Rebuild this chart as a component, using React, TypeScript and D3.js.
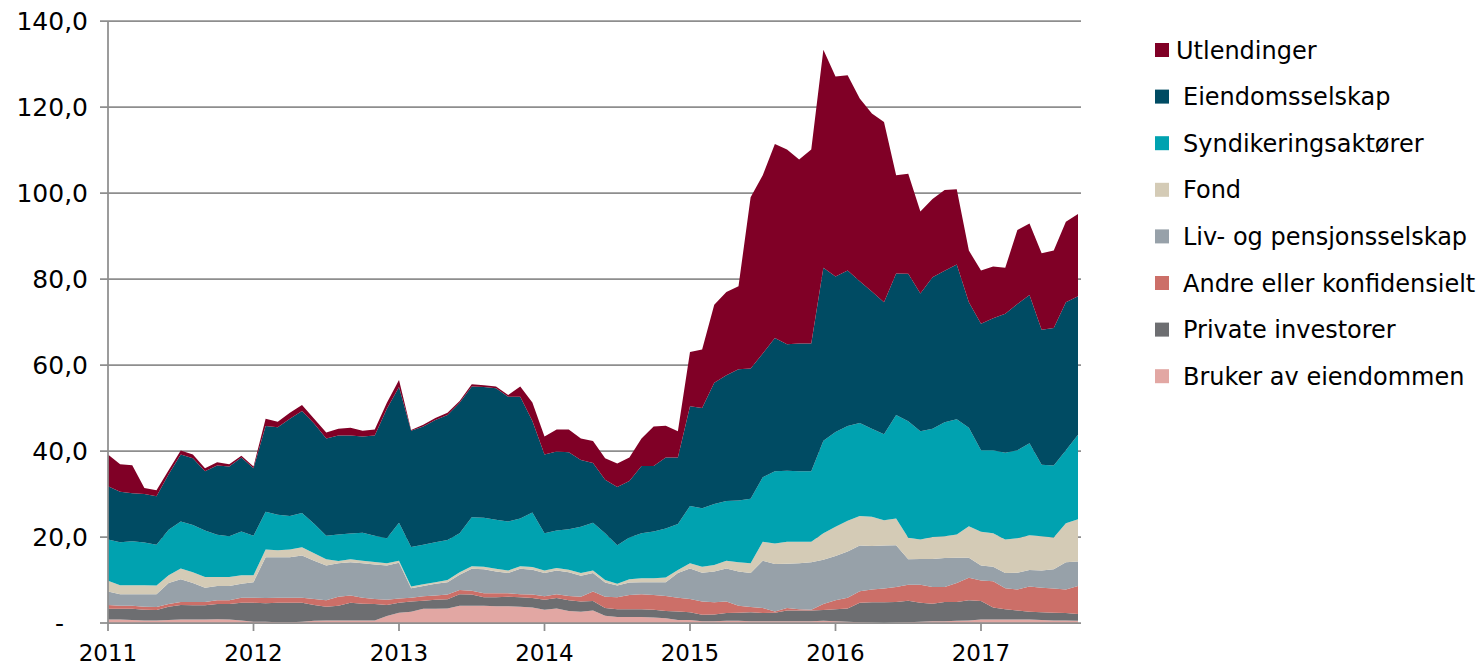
import * as d3 from "d3";

// monthly, Jan 2011 – Sep 2017 (81 points), bottom series first
const months = d3.timeMonths(new Date(2011, 0, 1), new Date(2017, 9, 1));
const yearLabels = ["2011", "2012", "2013", "2014", "2015", "2016", "2017"];
const yTicks = [0, 20, 40, 60, 80, 100, 120, 140];

const bruker = [
  0.8, 0.8, 0.7, 0.6, 0.6, 0.7, 0.8, 0.8, 0.8, 0.9, 0.8, 0.6,
  0.3, 0.3, 0.2, 0.2, 0.3, 0.5, 0.6, 0.6, 0.6, 0.6, 0.6, 1.6,
  2.4, 2.6, 3.3, 3.3, 3.4, 4.0, 4.0, 4.0, 3.9, 3.9, 3.8, 3.6,
  3.1, 3.4, 2.8, 2.6, 2.9, 1.7, 1.4, 1.4, 1.4, 1.3, 1.1, 0.7,
  0.7, 0.4, 0.4, 0.5, 0.5, 0.4, 0.4, 0.4, 0.4, 0.4, 0.4, 0.5,
  0.4, 0.3, 0.2, 0.1, 0.0, 0.1, 0.2, 0.3, 0.4, 0.4, 0.5, 0.6,
  0.8, 0.8, 0.8, 0.8, 0.8, 0.7, 0.6, 0.6, 0.5,
];
const privat = [
  2.5, 2.5, 2.6, 2.5, 2.4, 3.1, 3.4, 3.3, 3.3, 3.5, 3.6, 4.1,
  4.4, 4.3, 4.5, 4.5, 4.4, 3.7, 3.2, 3.4, 4.1, 3.9, 3.8, 2.6,
  2.3, 2.4, 1.9, 2.1, 2.1, 2.7, 2.6, 2.0, 2.1, 2.2, 2.2, 2.2,
  2.3, 2.4, 2.5, 2.4, 2.2, 1.8, 1.8, 1.8, 1.8, 1.8, 1.7, 2.0,
  1.8, 1.5, 1.6, 1.8, 1.9, 2.1, 1.9, 2.0, 2.5, 2.5, 2.5, 2.5,
  2.8, 3.1, 4.5, 4.7, 4.8, 4.8, 5.0, 4.4, 4.1, 4.5, 4.4, 4.7,
  4.3, 2.8, 2.4, 2.1, 1.8, 1.8, 1.8, 1.7, 1.6,
];
const andre = [
  0.9, 0.7, 0.7, 0.7, 0.7, 0.6, 0.7, 0.8, 0.8, 0.9, 0.9, 1.2,
  1.2, 1.2, 1.2, 1.2, 1.2, 1.4, 1.5, 2.1, 1.7, 1.4, 1.2, 1.2,
  1.0, 0.9, 1.0, 1.0, 1.1, 1.0, 0.9, 0.9, 0.9, 0.8, 0.7, 0.8,
  0.8, 0.9, 1.0, 1.1, 2.2, 2.6, 2.8, 3.3, 3.5, 3.4, 3.5, 3.2,
  3.1, 3.1, 2.8, 2.7, 1.6, 1.2, 1.2, 0.3, 0.6, 0.3, 0.2, 1.4,
  2.1, 2.5, 2.7, 3.0, 3.2, 3.5, 3.7, 4.2, 3.9, 3.5, 4.4, 5.2,
  4.8, 6.1, 4.9, 4.9, 5.9, 5.7, 5.6, 5.5, 6.5,
];
const liv = [
  3.1, 2.7, 2.7, 2.9, 3.0, 4.9, 5.3, 4.4, 3.3, 3.3, 3.3, 3.2,
  3.6, 9.5, 9.4, 9.4, 9.8, 8.9, 8.1, 7.8, 7.7, 8.0, 8.0, 8.0,
  8.3, 2.2, 2.4, 2.7, 2.9, 3.5, 5.1, 5.6, 5.1, 4.7, 5.9, 5.8,
  5.4, 5.5, 5.5, 4.9, 4.3, 3.3, 2.7, 2.9, 2.8, 3.0, 3.2, 5.7,
  7.1, 6.7, 7.2, 7.7, 8.0, 7.9, 11.0, 11.0, 10.3, 10.7, 11.0, 10.3,
  10.3, 10.7, 10.6, 10.1, 10.0, 9.7, 5.9, 6.0, 6.5, 6.7, 5.9, 4.7,
  3.5, 3.4, 3.5, 3.9, 3.8, 4.0, 4.5, 6.3, 5.7,
];
const fond = [
  2.5, 2.1, 2.1, 2.1, 2.0, 1.8, 2.5, 2.5, 2.5, 2.1, 2.1, 2.0,
  1.6, 1.8, 1.6, 1.8, 1.9, 1.7, 1.4, 0.5, 0.7, 0.6, 0.6, 0.5,
  0.5, 0.4, 0.4, 0.4, 0.5, 0.6, 0.6, 0.6, 0.6, 0.6, 0.6, 0.6,
  0.6, 0.6, 0.6, 0.6, 0.6, 0.6, 0.4, 0.8, 0.9, 0.9, 1.1, 0.7,
  1.2, 1.4, 1.5, 1.8, 2.1, 2.3, 4.4, 4.8, 5.1, 5.0, 4.8, 6.2,
  6.8, 7.2, 6.9, 6.8, 5.9, 6.2, 5.0, 4.5, 5.1, 5.1, 5.4, 7.3,
  7.8, 7.8, 7.8, 8.0, 8.1, 8.0, 7.4, 9.1, 9.8,
];
const synd = [
  9.6, 10.0, 10.2, 9.9, 9.5, 10.6, 10.9, 11.0, 10.8, 9.8, 9.5, 10.2,
  9.2, 8.8, 8.3, 7.8, 8.0, 6.9, 5.5, 6.2, 6.0, 6.5, 6.1, 5.8,
  8.8, 9.2, 9.2, 9.3, 9.3, 9.1, 11.4, 11.4, 11.4, 11.4, 11.1, 12.7,
  8.7, 8.7, 9.4, 10.8, 11.1, 10.9, 9.0, 9.7, 10.5, 10.9, 11.4, 10.7,
  13.3, 13.6, 14.2, 13.9, 14.4, 15.0, 15.0, 16.8, 16.5, 16.4, 16.4, 21.5,
  22.0, 22.0, 21.6, 20.5, 20.0, 24.1, 27.1, 25.2, 25.2, 26.5, 26.8, 22.9,
  19.0, 19.3, 20.2, 20.5, 21.4, 16.6, 16.7, 17.0, 19.7,
];
const eiendom = [
  12.4, 11.7, 11.2, 11.3, 11.3, 12.9, 15.6, 15.5, 13.8, 16.1, 16.2, 17.2,
  15.7, 19.9, 20.3, 22.6, 23.7, 23.3, 22.6, 23.0, 22.8, 22.4, 23.3, 30.1,
  31.6, 27.0, 27.5, 28.4, 29.1, 30.3, 30.4, 30.4, 30.6, 29.0, 28.3, 21.3,
  18.3, 18.4, 17.9, 15.5, 13.9, 12.4, 13.5, 13.1, 15.6, 15.2, 16.5, 15.5,
  23.2, 23.3, 28.2, 29.2, 30.5, 30.3, 28.8, 31.0, 29.4, 29.7, 29.7, 40.2,
  36.2, 36.2, 33.0, 31.9, 30.7, 32.9, 34.3, 32.0, 35.2, 35.2, 36.0, 29.2,
  29.4, 30.7, 32.3, 34.0, 34.5, 31.4, 32.0, 34.4, 32.2,
];
const utlendinger = [
  7.4, 6.4, 6.5, 1.4, 1.4, 0.9, 0.9, 0.9, 0.7, 0.8, 0.5, 0.4,
  0.4, 1.7, 1.3, 1.4, 1.4, 1.1, 1.4, 1.6, 1.8, 1.3, 1.4, 1.4,
  1.6, 0.2, 0.4, 0.5, 0.5, 0.4, 0.5, 0.4, 0.4, 0.4, 2.4, 4.3,
  4.2, 5.1, 5.3, 5.0, 5.1, 5.0, 5.5, 5.5, 6.4, 9.2, 7.4, 6.1,
  12.6, 13.6, 18.1, 19.4, 19.3, 39.8, 41.4, 45.1, 45.3, 42.8, 45.1, 50.7,
  46.5, 45.4, 42.5, 41.4, 41.9, 22.8, 23.3, 19.1, 18.2, 18.8, 17.5, 12.0,
  12.4, 12.0, 10.7, 17.2, 16.6, 17.8, 18.0, 18.7, 19.1,
];

const series = [
  { key: "Bruker av eiendommen", values: bruker, color: "#e2a7a3" },
  { key: "Private investorer", values: privat, color: "#6d6e71" },
  { key: "Andre eller konfidensielt", values: andre, color: "#cc6f68" },
  { key: "Liv- og pensjonsselskap", values: liv, color: "#97a1a9" },
  { key: "Fond", values: fond, color: "#d4cbb6" },
  { key: "Syndikeringsaktører", values: synd, color: "#00a2b0" },
  { key: "Eiendomsselskap", values: eiendom, color: "#004b63" },
  { key: "Utlendinger", values: utlendinger, color: "#800026" },
];

const W = 1483;
const H = 667;
const left = 108;
const lastX = 1078;
const gridRight = 1081;
const top = 21;
const bottom = 623;
const font = "'DejaVu Sans', Verdana, sans-serif";

export default function App() {
  const rows = months.map((m, i) => {
    const r: any = { i };
    series.forEach(s => (r[s.key] = s.values[i]));
    return r;
  });

  const stacked = d3.stack().keys(series.map(s => s.key))(rows);

  const x = d3.scaleLinear().domain([0, months.length - 1]).range([left, lastX]);
  const y = d3.scaleLinear().domain([0, 140]).range([bottom, top]);

  const area = d3
    .area<any>()
    .x(d => x(d.data.i))
    .y0(d => y(d[0]))
    .y1(d => y(d[1]));

  const fmt = (v: number) => (v === 0 ? "-" : d3.format(".1f")(v).replace(".", ","));

  const legendOrder = [...series].reverse();

  return (
    <svg
      width={W}
      height={H}
      style={{ position: "absolute", left: 0, top: 0, background: "#fff" }}
      fontFamily={font}
    >
      {yTicks.map(t => (
        <g key={t}>
          <line x1={left - 8} x2={t === 0 ? left : gridRight} y1={y(t)} y2={y(t)} stroke="#8e8e8e" strokeWidth={1.75} />
          <text
            x={t === 0 ? 64 : 88}
            y={y(t)}
            dy="0.36em"
            textAnchor="end"
            fontSize={25}
            fill="#000"
          >
            {fmt(t)}
          </text>
        </g>
      ))}

      {stacked.map((layer, k) => (
        <path key={layer.key} d={area(layer as any) || ""} fill={series[k].color} />
      ))}

      <line x1={left} x2={left} y1={top} y2={bottom} stroke="#8e8e8e" strokeWidth={1.75} />
      <line x1={left} x2={gridRight} y1={bottom} y2={bottom} stroke="#8e8e8e" strokeWidth={1.75} />

      {yearLabels.map((lab, k) => (
        <g key={lab}>
          <line x1={x(k * 12)} x2={x(k * 12)} y1={bottom} y2={bottom + 8} stroke="#8e8e8e" strokeWidth={1.75} />
          <text x={x(k * 12)} y={661} textAnchor="middle" fontSize={23} fill="#000">
            {lab}
          </text>
        </g>
      ))}

      {legendOrder.map((s, k) => {
        const ly = 43 + k * 46.6;
        return (
          <g key={s.key}>
            <rect x={1155} y={ly} width={14} height={14} fill={s.color} />
            <text x={k === 0 ? 1176 : 1183} y={ly + 7} dy="0.36em" fontSize={24} fill="#000">
              {s.key}
            </text>
          </g>
        );
      })}
    </svg>
  );
}
